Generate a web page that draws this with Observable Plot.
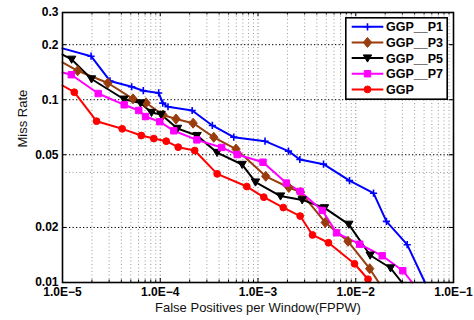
<!DOCTYPE html>
<html><head><meta charset="utf-8">
<script src="https://cdn.jsdelivr.net/npm/d3@7"></script>
<script src="https://cdn.jsdelivr.net/npm/@observablehq/plot@0.6"></script>
<style>
html,body{margin:0;padding:0;background:#fff;}
#wrap{position:relative;width:474px;height:320px;font-family:"Liberation Sans",Arial,sans-serif;}
#legend{position:absolute;left:345px;top:17px;}
</style></head><body><div id="wrap"></div>
<script>
// ---- data ----
const seriesNames = ["GGP__P1","GGP__P3","GGP__P5","GGP__P7","GGP"];
const seriesColors = ["#0000ff","#993d0f","#000000","#ff00ff","#ff0000"];

const p1X = [1.0e-5, 1.96e-5, 3.06e-5, 5.10e-5, 6.71e-5, 9.64e-5, 1.06e-4, 1.20e-4, 2.12e-4, 3.41e-4, 5.65e-4, 1.18e-3, 2.05e-3, 2.68e-3, 4.68e-3, 8.63e-3, 1.52e-2, 2.06e-2, 3.36e-2, 5.11e-2];
const p1Y = [0.191, 0.173, 0.1267, 0.1177, 0.112, 0.1089, 0.0958, 0.0915, 0.0873, 0.0723, 0.0624, 0.0593, 0.0523, 0.0471, 0.0444, 0.0361, 0.0308, 0.0216, 0.0161, 0.0100];

const p3X = [1.0e-5, 1.43e-5, 2.91e-5, 5.26e-5, 7.15e-5, 1.07e-4, 1.45e-4, 2.17e-4, 3.53e-4, 5.96e-4, 1.20e-3, 2.07e-3, 2.72e-3, 4.87e-3, 8.33e-3, 1.39e-2, 1.72e-2];
const p3Y = [0.160, 0.144, 0.1234, 0.1011, 0.0962, 0.0825, 0.0784, 0.0744, 0.0623, 0.0537, 0.0381, 0.0331, 0.0312, 0.0213, 0.0168, 0.0119, 0.0100];

const p5X = [1.0e-5, 1.24e-5, 1.98e-5, 4.26e-5, 6.28e-5, 8.14e-5, 1.02e-4, 1.50e-4, 2.38e-4, 3.81e-4, 6.89e-4, 9.43e-4, 1.70e-3, 2.83e-3, 4.79e-3, 8.49e-3, 1.405e-2, 2.27e-2, 2.97e-2];
const p5Y = [0.1767, 0.1663, 0.1298, 0.1006, 0.0959, 0.0851, 0.0830, 0.0696, 0.0636, 0.0514, 0.0442, 0.0354, 0.0297, 0.0283, 0.0256, 0.0208, 0.0141, 0.0120, 0.0100];

const p7X = [1.0e-5, 1.23e-5, 2.32e-5, 4.28e-5, 6.03e-5, 7.07e-5, 9.89e-5, 1.376e-4, 2.37e-4, 4.25e-4, 6.13e-4, 1.125e-3, 1.95e-3, 2.70e-3, 4.54e-3, 6.36e-3, 1.098e-2, 1.865e-2, 3.03e-2, 3.78e-2];
const p7Y = [0.1409, 0.1370, 0.1081, 0.0938, 0.0873, 0.0809, 0.0758, 0.0676, 0.0603, 0.0548, 0.0501, 0.0455, 0.0350, 0.0315, 0.0248, 0.0187, 0.0162, 0.0140, 0.0116, 0.0100];

const ggpX = [1.0e-5, 1.32e-5, 2.23e-5, 4.08e-5, 6.40e-5, 8.59e-5, 1.151e-4, 1.527e-4, 2.25e-4, 3.82e-4, 7.68e-4, 1.146e-3, 1.815e-3, 2.70e-3, 3.61e-3, 5.26e-3, 9.71e-3, 1.335e-2];
const ggpY = [0.1196, 0.1099, 0.0763, 0.0693, 0.0637, 0.0613, 0.0593, 0.0550, 0.0527, 0.0393, 0.0335, 0.0293, 0.0257, 0.0231, 0.0182, 0.0165, 0.01266, 0.01042];

const xTickValues = [1e-5, 1e-4, 1e-3, 1e-2, 1e-1];
const xTickLabels = ["1.0E\u22125", "1.0E\u22124", "1.0E\u22123", "1.0E\u22122", "1.0E\u22121"];
const yTickValues = [0.01, 0.02, 0.05, 0.1, 0.2, 0.3];
const yTickLabels = ["0.01", "0.02", "0.05", "0.1", "0.2", "0.3"];
const xLabel = "False Positives per Window(FPPW)";
const yLabel = "Miss Rate";

// ---- build ----
const xs = [p1X, p3X, p5X, p7X, ggpX];
const ys = [p1Y, p3Y, p5Y, p7Y, ggpY];
const tables = seriesNames.map((name, k) => xs[k].map((x, i) => ({name, x, y: ys[k][i]})));

// marker shapes
const plusSym = {draw(c){ c.moveTo(-3.6,0); c.lineTo(3.6,0); c.moveTo(0,-3.6); c.lineTo(0,3.6); }};
const diamondSym = {draw(c){ c.moveTo(0,-5); c.lineTo(4.2,0); c.lineTo(0,5); c.lineTo(-4.2,0); c.closePath(); }};
const triDownSym = {draw(c){ c.moveTo(-4.2,-3.2); c.lineTo(4.2,-3.2); c.lineTo(0,4); c.closePath(); }};
const squareSym = {draw(c){ c.rect(-3.2,-3.2,6.4,6.4); }};
const circleSym = {draw(c){ c.moveTo(3.4,0); c.arc(0,0,3.4,0,2*Math.PI); c.closePath(); }};
const symbols = [plusSym, diamondSym, triDownSym, squareSym, circleSym];
const filled = [false, true, true, true, true];

const minorX = [];
for (const e of [-5,-4,-3,-2]) for (let m = 2; m <= 9; m++) minorX.push(+(m * Math.pow(10, e)).toPrecision(3));
const gridMinorY = [0.04];
const gridMajorY = [0.02, 0.05, 0.1, 0.2];
const gridMajorX = [1e-4, 1e-3, 1e-2];

const innerH = 270, innerW = 391;
const marks = [
  Plot.ruleX(minorX, {x: d => d, stroke: "#9a9a9a", strokeDasharray: "1,2.5"}),
  Plot.ruleX(gridMajorX, {x: d => d, stroke: "#777", strokeDasharray: "1,2.5"}),
  Plot.ruleY(gridMinorY, {y: d => d, stroke: "#9a9a9a", strokeDasharray: "1,2.5"}),
  Plot.ruleY(gridMajorY, {y: d => d, stroke: "#000", strokeDasharray: "1.3,2.2"}),
  // inward ticks
  Plot.tickX(xTickValues, {x: d => d, insetTop: innerH - 4, stroke: "#000"}),
  Plot.tickX(xTickValues, {x: d => d, insetBottom: innerH - 4, stroke: "#000"}),
  Plot.tickX(minorX, {x: d => d, insetTop: innerH - 2.5, stroke: "#000"}),
  Plot.tickX(minorX, {x: d => d, insetBottom: innerH - 2.5, stroke: "#000"}),
  Plot.tickY(yTickValues, {y: d => d, insetRight: innerW - 4, stroke: "#000"}),
  Plot.tickY(yTickValues, {y: d => d, insetLeft: innerW - 4, stroke: "#000"}),
];
tables.forEach((rows, k) => {
  marks.push(Plot.line(rows, {x: "x", y: "y", stroke: seriesColors[k], strokeWidth: 2}));
});
tables.forEach((rows, k) => {
  const pts = rows.filter(d => d.x > 1e-5 && d.y > 0.01);
  marks.push(Plot.dot(pts, {x: "x", y: "y", symbol: symbols[k], r: 3,
    fill: filled[k] ? seriesColors[k] : "none", stroke: seriesColors[k], strokeWidth: filled[k] ? 1 : 1.6}));
});
marks.push(
  Plot.frame({stroke: "#000", strokeWidth: 1.6}),
  Plot.axisX({ticks: xTickValues, tickFormat: d => xTickLabels[xTickValues.indexOf(d)], tickSize: 0, tickPadding: 4.5, fontSize: 12, fontWeight: "bold", label: null}),
  Plot.axisY({ticks: yTickValues, tickFormat: d => yTickLabels[yTickValues.indexOf(d)], tickSize: 0, tickPadding: 4, fontSize: 12, fontWeight: "bold", label: null}),
  Plot.text([xLabel], {text: d => d, frameAnchor: "bottom", lineAnchor: "middle", dy: 25, fontSize: 13, fill: "#111"}),
  Plot.text([yLabel], {text: d => d, frameAnchor: "left", lineAnchor: "middle", dx: -40, rotate: -90, fontSize: 13, fill: "#111"})
);

const chart = Plot.plot({
  width: 474, height: 320,
  marginLeft: 62, marginRight: 21, marginTop: 12, marginBottom: 38,
  x: {type: "log", domain: [1e-5, 1e-1]},
  y: {type: "log", domain: [0.01, 0.3]},
  style: {fontFamily: "'Liberation Sans', Arial, sans-serif", fontSize: "12px", background: "#fff", color: "#000", overflow: "visible"},
  marks
});
const wrap = document.getElementById("wrap");
wrap.appendChild(chart);

// ---- legend (overlay, top-right inside the plot) ----
const lw = 102, lh = 82;
const leg = d3.select(wrap).append("svg").attr("id", "legend").attr("width", lw + 1).attr("height", lh + 1);
leg.append("rect").attr("x", 0.8).attr("y", 0.8).attr("width", lw - 0.6).attr("height", lh - 0.6)
  .attr("fill", "#fff").attr("stroke", "#000").attr("stroke-width", 1.6);
seriesNames.forEach((name, k) => {
  const cy = 9.8 + k * 15.65;
  const g = leg.append("g");
  g.append("line").attr("x1", 6.7).attr("x2", 38.3).attr("y1", cy).attr("y2", cy)
    .attr("stroke", seriesColors[k]).attr("stroke-width", 2);
  g.append("path").attr("transform", `translate(22.5,${cy})`).attr("d", d3.symbol().type(symbols[k])())
    .attr("fill", filled[k] ? seriesColors[k] : "none").attr("stroke", seriesColors[k]).attr("stroke-width", filled[k] ? 1 : 1.6);
  g.append("text").attr("x", 41).attr("y", cy + 4.6).text(name)
    .attr("font-family", "'Liberation Sans', Arial, sans-serif").attr("font-weight", "bold").attr("font-size", 12.5).attr("fill", "#000");
});
</script></body></html>
